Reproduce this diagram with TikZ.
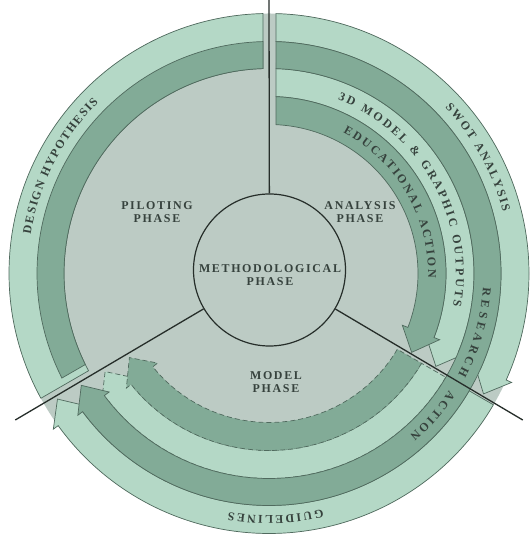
\documentclass[tikz,border=0pt]{standalone}
\usepackage{fontspec}
\setmainfont{Liberation Serif}
\newfontfamily\phasefont[LetterSpace=14]{Liberation Serif}
\usetikzlibrary{decorations.text}

\definecolor{sectorfill}{HTML}{BCCBC4}
\definecolor{lightband}{HTML}{B4D8C6}
\definecolor{darkband}{HTML}{82AB97}
\definecolor{bandline}{HTML}{506A5E}
\definecolor{divline}{HTML}{262E2A}
\definecolor{txtc}{HTML}{36423D}

\newcommand\gapw{3}
\newcommand\headl{22}
\newcommand\barbw{6}
\newcommand\curvefont{\bfseries\fontsize{12}{12}\selectfont\color{txtc}}

% style, r inner, r outer, start line angle, start offset, end line angle, direction
\newcommand\ArrowBand[7]{%
  \pgfmathsetmacro\bAo{#4+#7*asin(#5/#3)}%
  \pgfmathsetmacro\bAi{#4+#7*asin(#5/#2)}%
  \pgfmathsetmacro\bRm{(#2+#3)/2}%
  \pgfmathsetmacro\bTip{#6-#7*asin(\gapw/\bRm)}%
  \pgfmathsetmacro\bBack{\bTip-#7*\headl/\bRm*57.29578}%
  \pgfmathsetmacro\bRo{#3+\barbw}%
  \pgfmathsetmacro\bRi{#2-\barbw}%
  \draw[#1] (\bAo:#3) arc[start angle=\bAo, end angle=\bBack, radius=#3]
    -- (\bBack:\bRo) -- (\bTip:\bRm) -- (\bBack:\bRi) -- (\bBack:#2)
    arc[start angle=\bBack, end angle=\bAi, radius=#2] -- cycle;
}
% style, r inner, r outer, start line, start offset, end line, end offset (ccw)
\newcommand\FlatBand[7]{%
  \pgfmathsetmacro\bAo{#4+asin(#5/#3)}%
  \pgfmathsetmacro\bAi{#4+asin(#5/#2)}%
  \pgfmathsetmacro\bBo{#6-asin(#7/#3)}%
  \pgfmathsetmacro\bBi{#6-asin(#7/#2)}%
  \draw[#1] (\bAo:#3) arc[start angle=\bAo, end angle=\bBo, radius=#3]
    -- (\bBi:#2) arc[start angle=\bBi, end angle=\bAi, radius=#2] -- cycle;
}
% radius, start angle, end angle, text
\newcommand\ArcText[4]{%
  \path[decorate, decoration={text along path, text align=fit to path,
    text={|\curvefont|#4}}] (#2:#1) arc[start angle=#2, end angle=#3, radius=#1];
}

\begin{document}
\begin{tikzpicture}[x=1bp,y=1bp,
  bandedge/.style={draw=bandline, line width=0.7bp, line join=miter},
  lightb/.style={bandedge, fill=lightband},
  darkb/.style={bandedge, fill=darkband},
  dashb/.style={dash pattern=on 5bp off 3bp},
  divider/.style={draw=divline, line width=1.3bp},
  phase/.style={font=\phasefont\bfseries\fontsize{12}{13}\selectfont, text=txtc, align=center, inner sep=0pt}]
\useasboundingbox (0,0) rectangle (530,536);
\fill[white] (0,0) rectangle (530,536);
\begin{scope}[shift={(269,262.5)}]
  \fill[sectorfill] (0,0) circle[radius=260];
  % piloting sector
  \FlatBand{lightb}{205}{260}{90}{6}{210}{6}
  \FlatBand{darkb}{205}{232}{90}{6}{210}{13}
  % analysis sector
  \ArrowBand{lightb}{232}{260}{90}{7}{-30}{(-1)}
  \ArrowBand{lightb}{177}{205}{90}{7}{-30}{(-1)}
  \ArrowBand{darkb}{149}{177}{90}{7}{-30}{(-1)}
  % model sector
  \ArrowBand{lightb}{232}{260}{-30}{1.5}{-150}{(-1)}
  \ArrowBand{lightb,dashb}{177}{205}{-30}{1.5}{-150}{(-1)}
  \ArrowBand{darkb,dashb}{149}{177}{-30}{1.5}{-150}{(-1)}
  % research action
  \ArrowBand{darkb}{205}{232}{90}{7}{-150}{(-1)}
  \coordinate (llend) at (210:293);
  \coordinate (lrend) at (-30:293);
  % curved labels
  \ArcText{241.5}{170.6}{134.9}{DESIGN HYPOTHESIS}
  \ArcText{242}{43.3}{14.8}{SWOT ANALYSIS}
  \ArcText{187}{68.4}{-10.0}{3D MODEL {\&} GRAPHIC OUTPUTS}
  \ArcText{159}{62.2}{-1.5}{EDUCATIONAL ACTION}
  \ArcText{214.5}{-3.8}{-28.2}{RESEARCH}
  \ArcText{214.5}{-32.9}{-49.0}{ACTION}
  \ArcText{242}{-77.2}{-99.6}{GUIDELINES}
\end{scope}
\coordinate (topend) at (269,536);
\node[circle, draw=divline, line width=1.2bp, fill=sectorfill, minimum size=152bp, inner sep=0pt] (meth) at (269.5,266) {};
\draw[divider] (meth) -- (topend);
\draw[divider] (meth) -- (llend);
\draw[divider] (meth) -- (lrend);
\node[phase] (methtext) at (270,261) {METHODOLOGICAL\\PHASE};
\node[phase] (pilot) at (157,324) {PILOTING\\PHASE};
\node[phase] (analysis) at (360,324) {ANALYSIS\\PHASE};
\node[phase] (model) at (276,154) {MODEL\\PHASE};
\end{tikzpicture}
\end{document}
